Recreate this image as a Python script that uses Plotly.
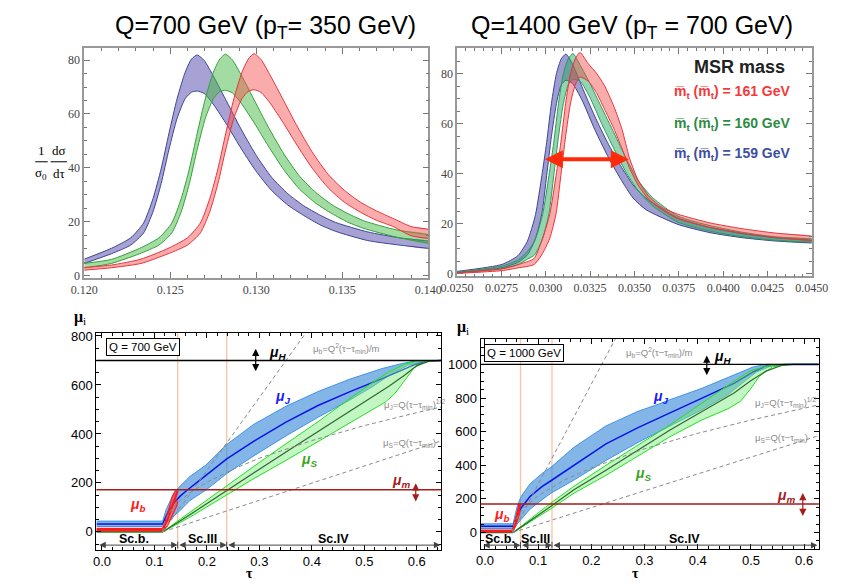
import plotly.graph_objects as go

W, H = 856, 585
def px(x): return x / W
def py(y): return 1 - y / H

# ---------------- Top-left panel: Q=700 GeV ----------------
TL_BLUE_TAU = [0.12000, 0.12158, 0.12270, 0.12345, 0.12400, 0.12447, 0.12493, 0.12540, 0.12587, 0.12624, 0.12657, 0.12698,
               0.12754, 0.12829, 0.12903, 0.12996, 0.13089, 0.13183, 0.13276, 0.13369, 0.13462, 0.13648, 0.13834, 0.14000]
TL_BLUE_UP = [6.1, 10.1, 14.0, 19.5, 28.6, 39.6, 52.9, 65.7, 75.5, 80.4, 81.9, 79.8,
              73.7, 64.5, 55.4, 45.0, 36.5, 30.4, 25.9, 22.5, 19.7, 16.2, 14.0, 12.8]
TL_BLUE_LO = [4.5, 8.1, 11.3, 15.8, 23.7, 34.1, 46.9, 58.4, 65.7, 68.1, 68.5, 67.6,
              63.3, 56.0, 48.1, 39.0, 31.6, 26.2, 22.3, 18.9, 16.4, 13.0, 11.3, 10.1]

TL_GREEN_TAU = [0.12000, 0.12158, 0.12322, 0.12434, 0.12509, 0.12564, 0.12611, 0.12657, 0.12704, 0.12751, 0.12788, 0.12821,
                0.12862, 0.12918, 0.12993, 0.13067, 0.13160, 0.13253, 0.13347, 0.13440, 0.13533, 0.13626, 0.13812, 0.14000]
TL_GREEN_UP = [4.5, 6.0, 10.1, 14.0, 19.5, 28.6, 39.6, 52.9, 65.7, 75.5, 80.4, 82.2,
               80.0, 73.8, 64.6, 55.5, 45.2, 36.8, 30.8, 26.3, 23.0, 20.3, 17.0, 15.2]
TL_GREEN_LO = [2.8, 4.5, 8.1, 11.3, 15.8, 23.7, 34.1, 46.9, 58.4, 65.7, 68.3, 68.8,
               67.8, 63.5, 56.2, 48.4, 39.3, 32.0, 26.8, 23.0, 19.8, 17.5, 14.3, 12.0]

TL_RED_TAU = [0.12000, 0.12158, 0.12330, 0.12488, 0.12600, 0.12675, 0.12730, 0.12777, 0.12823, 0.12870, 0.12917, 0.12954,
              0.12987, 0.13028, 0.13084, 0.13159, 0.13233, 0.13326, 0.13419, 0.13513, 0.13606, 0.13699, 0.13792, 0.13900, 0.14000]
TL_RED_UP = [3.0, 3.9, 6.1, 10.1, 14.0, 19.5, 28.6, 39.6, 52.9, 65.7, 75.5, 80.4,
             82.4, 80.2, 74.0, 65.0, 56.0, 45.8, 37.5, 31.6, 27.2, 24.0, 21.3, 18.2, 17.2]
TL_RED_LO = [2.0, 2.9, 4.5, 8.1, 11.3, 15.8, 23.7, 34.1, 46.9, 58.4, 65.7, 68.4,
             69.0, 68.0, 63.7, 56.5, 48.8, 39.8, 32.5, 27.2, 23.5, 20.5, 18.3, 14.8, 13.8]

# ---------------- Top-right panel: Q=1400 GeV ----------------
TR_BLUE_TAU = [0.02500, 0.02753, 0.02843, 0.02897, 0.02942, 0.02978, 0.03005, 0.03032, 0.03060, 0.03087, 0.03114, 0.03150,
               0.03204, 0.03276, 0.03348, 0.03421, 0.03493, 0.03565, 0.03745, 0.03926, 0.04106, 0.04287, 0.04500]
TR_BLUE_UP = [0.9, 3.7, 7.2, 13.1, 23.6, 39.3, 52.5, 68.2, 80.0, 85.9, 87.9, 84.0,
              74.8, 63.0, 52.5, 43.3, 35.4, 30.2, 22.3, 18.4, 16.0, 14.4, 13.4]
TR_BLUE_LO = [0.5, 2.3, 4.5, 7.5, 14.0, 24.0, 39.3, 55.0, 68.0, 75.5, 77.4, 76.1,
              69.5, 57.7, 47.2, 38.0, 30.2, 25.6, 19.7, 16.4, 14.4, 13.1, 12.3]

TR_GREEN_TAU = [0.02500, 0.02753, 0.02843, 0.02897, 0.02937, 0.02982, 0.03018, 0.03045, 0.03072, 0.03099, 0.03126, 0.03153,
                0.03195, 0.03249, 0.03312, 0.03384, 0.03457, 0.03529, 0.03601, 0.03745, 0.03926, 0.04106, 0.04287, 0.04500]
TR_GREEN_UP = [0.6, 3.0, 5.5, 9.0, 13.1, 23.6, 39.3, 52.5, 68.2, 80.0, 85.9, 88.1,
               83.3, 76.1, 66.9, 56.4, 45.5, 36.5, 30.5, 23.0, 19.2, 16.6, 14.8, 13.9]
TR_GREEN_LO = [0.3, 1.9, 3.6, 5.8, 7.5, 14.0, 24.0, 39.3, 55.0, 68.0, 75.5, 77.8,
               76.9, 70.5, 60.5, 50.0, 40.0, 32.5, 27.2, 20.6, 17.0, 14.8, 13.4, 12.6]

TR_RED_TAU = [0.02500, 0.02753, 0.02843, 0.02933, 0.02977, 0.03022, 0.03058, 0.03085, 0.03112, 0.03139, 0.03166, 0.03193,
              0.03240, 0.03285, 0.03330, 0.03384, 0.03430, 0.03471, 0.03520, 0.03583, 0.03655, 0.03745, 0.03926, 0.04106,
              0.04287, 0.04500]
TR_RED_UP = [0.4, 2.0, 3.6, 6.0, 13.1, 23.6, 39.3, 52.5, 68.2, 80.0, 85.9, 88.5,
             84.0, 80.3, 75.4, 66.9, 57.7, 46.5, 37.5, 30.8, 26.5, 23.8, 20.3, 18.0, 16.3, 15.0]
TR_RED_LO = [0.1, 1.2, 2.3, 3.6, 7.5, 14.0, 24.0, 39.3, 55.0, 68.0, 75.5, 78.7,
             77.0, 72.5, 66.0, 58.0, 50.0, 42.5, 35.5, 29.5, 25.6, 22.0, 18.5, 16.2, 14.5, 13.2]

TR_ARROW_TAU = [0.02986, 0.03468]
TR_ARROW_Y = 45.8
LEGEND_LABELS = ["m̅<sub>t</sub> (m̅<sub>t</sub>) = 161 GeV",
                 "m̅<sub>t</sub> (m̅<sub>t</sub>) = 160 GeV",
                 "m̅<sub>t</sub> (m̅<sub>t</sub>) = 159 GeV"]

# ---------------- Bottom-left panel: Q=700 GeV profiles ----------------
BL_J_UP_TAU = [-0.0106, 0.1157, 0.1220, 0.1279, 0.1350, 0.1419, 0.1675, 0.1981, 0.2378, 0.2897, 0.3507, 0.4118, 0.4728, 0.5339, 0.5705, 0.5949, 0.6193, 0.647]
BL_J_UP = [44, 44, 90, 120, 150, 172, 226, 273, 357, 440, 513, 573, 624, 667, 687, 697, 700, 700]
BL_J_C_TAU = [-0.0106, 0.1157, 0.1260, 0.1371, 0.1490, 0.1615, 0.1981, 0.2378, 0.2897, 0.3507, 0.4118, 0.4728, 0.5339, 0.5705, 0.5949, 0.6193, 0.647]
BL_J_C = [32, 32, 82, 118, 146, 169, 231, 298, 371, 448, 516, 573, 626, 660, 682, 697, 700]
BL_J_LO_TAU = [-0.0106, 0.1157, 0.1300, 0.1444, 0.1675, 0.1981, 0.2378, 0.2897, 0.3507, 0.4118, 0.4728, 0.5155, 0.5522, 0.5827, 0.6193, 0.647]
BL_J_LO = [22, 22, 52, 78, 128, 171, 238, 311, 392, 468, 539, 593, 646, 680, 697, 700]

BL_S_UP_TAU = [-0.0106, 0.1157, 0.1675, 0.2378, 0.2897, 0.3507, 0.4118, 0.4728, 0.5155, 0.5461, 0.5766, 0.6010, 0.6254, 0.647]
BL_S_UP = [0, 0, 80, 190, 268, 360, 450, 545, 610, 652, 685, 698, 700, 700]
BL_S_C_TAU = [-0.0106, 0.1157, 0.1675, 0.2378, 0.2897, 0.3507, 0.4118, 0.4728, 0.5155, 0.5461, 0.5766, 0.6010, 0.6254, 0.647]
BL_S_C = [0, 0, 70, 170, 242, 326, 410, 494, 552, 594, 640, 680, 698, 700]
BL_S_LO_TAU = [-0.0106, 0.1157, 0.1675, 0.2378, 0.2897, 0.3507, 0.4118, 0.4728, 0.5155, 0.5400, 0.5583, 0.5766, 0.5949, 0.6193, 0.647]
BL_S_LO = [0, 0, 60, 152, 218, 292, 368, 445, 500, 530, 565, 620, 670, 697, 700]

BL_B_UP_TAU = [-0.0106, 0.1157, 0.1218, 0.1279, 0.1340, 0.1401]
BL_B_UP = [14, 14, 51, 97, 144, 169]
BL_B_C_TAU = [-0.0106, 0.1157, 0.1236, 0.1310, 0.1401, 0.1444]
BL_B_C = [9, 9, 44, 91, 144, 169]
BL_B_LO_TAU = [-0.0106, 0.1157, 0.1248, 0.1340, 0.1419, 0.1444]
BL_B_LO = [4, 4, 24, 64, 104, 124]

BL_DASH_B_TAU = [0.1157, 0.388]
BL_DASH_B = [0, 811]
BL_DASH_J_TAU = [0.1157, 0.117, 0.12, 0.125, 0.13, 0.14, 0.15, 0.17, 0.2, 0.25, 0.3, 0.4, 0.5, 0.6, 0.647]
BL_DASH_J = [0, 25, 46, 67, 84, 109, 130, 163, 203, 256, 301, 373, 434, 487, 510]
BL_DASH_S_TAU = [0.1157, 0.647]
BL_DASH_S = [0, 372]
BL_MU_H, BL_MU_M = 700, 172
BL_ORANGE = [0.1443, 0.2377]
BL_SCALES = [(-0.008, 0.1443, "Sc.b.", 0.061), (0.1443, 0.2377, "Sc.III", 0.192), (0.2377, 0.645, "Sc.IV", 0.442)]

# ---------------- Bottom-right panel: Q=1000 GeV profiles ----------------
BR_J_UP_TAU = [-0.0083, 0.0530, 0.0600, 0.0680, 0.0850, 0.1071, 0.1240, 0.1673, 0.2275, 0.2877, 0.3268, 0.3479, 0.4080, 0.4682, 0.5043, 0.5283, 0.6276]
BR_J_UP = [52, 52, 150, 215, 290, 351, 388, 507, 634, 721, 764, 790, 858, 936, 985, 1000, 1000]
BR_J_C_TAU = [-0.0083, 0.0530, 0.0600, 0.0680, 0.0850, 0.1071, 0.1240, 0.1673, 0.2275, 0.2877, 0.3479, 0.4080, 0.4682, 0.5043, 0.5283, 0.5644, 0.6276]
BR_J_C = [37, 37, 100, 146, 215, 273, 308, 400, 527, 624, 712, 799, 887, 955, 991, 1000, 1000]
BR_J_LO_TAU = [-0.0083, 0.0530, 0.0680, 0.0850, 0.1071, 0.1240, 0.1673, 0.2275, 0.2877, 0.3479, 0.4080, 0.4562, 0.4862, 0.5103, 0.5404, 0.5765, 0.6276]
BR_J_LO = [24, 24, 78, 140, 195, 234, 312, 429, 536, 634, 731, 819, 897, 955, 994, 1000, 1000]

BR_S_UP_TAU = [-0.0083, 0.0530, 0.1240, 0.1673, 0.2275, 0.2877, 0.3479, 0.4080, 0.4441, 0.4682, 0.4982, 0.5283, 0.5600, 0.6276]
BR_S_UP = [0, 0, 176, 275, 400, 520, 640, 770, 850, 900, 960, 990, 1000, 1000]
BR_S_C_TAU = [-0.0083, 0.0530, 0.1240, 0.1673, 0.2275, 0.2877, 0.3479, 0.4080, 0.4682, 0.4982, 0.5283, 0.5584, 0.5800, 0.6276]
BR_S_C = [0, 0, 156, 254, 370, 490, 610, 720, 830, 900, 960, 995, 1000, 1000]
BR_S_LO_TAU = [-0.0083, 0.0530, 0.1240, 0.1673, 0.2275, 0.2877, 0.3479, 0.4080, 0.4562, 0.4802, 0.4982, 0.5163, 0.5404, 0.5765, 0.6276]
BR_S_LO = [0, 0, 141, 234, 340, 455, 570, 670, 735, 780, 850, 930, 985, 1000, 1000]

BR_B_UP_TAU = [-0.0083, 0.0518, 0.056, 0.060, 0.0639]
BR_B_UP = [14, 14, 60, 115, 170]
BR_B_C_TAU = [-0.0083, 0.0518, 0.057, 0.062, 0.0667]
BR_B_C = [9, 9, 50, 110, 170]
BR_B_LO_TAU = [-0.0083, 0.0518, 0.058, 0.063, 0.0667]
BR_B_LO = [4, 4, 40, 95, 130]

BR_DASH_B_TAU = [0.052, 0.2455]
BR_DASH_B = [0, 1154]
BR_DASH_J_TAU = [0.052, 0.053, 0.056, 0.06, 0.065, 0.07, 0.08, 0.1, 0.15, 0.2, 0.3, 0.4, 0.5, 0.6276]
BR_DASH_J = [0, 32, 63, 89, 114, 134, 167, 219, 313, 385, 498, 590, 669, 759]
BR_DASH_S_TAU = [0.052, 0.6276]
BR_DASH_S = [0, 576]
BR_MU_H, BR_MU_M = 1000, 170
BR_ORANGE = [0.0668, 0.126]
BR_SCALES = [(-0.006, 0.0668, "Sc.b.", 0.029), (0.0668, 0.126, "Sc.III", 0.095), (0.126, 0.625, "Sc.IV", 0.375)]

fig = go.Figure()

def band(xu, yu, xl, yl, fill, edge, xa, ya, ew=1.0, shape="spline"):
    ln = dict(shape=shape)
    if shape == "spline":
        ln["smoothing"] = 0.6
    fig.add_trace(go.Scatter(x=list(xu) + list(xl)[::-1], y=list(yu) + list(yl)[::-1], fill="toself",
                             fillcolor=fill, mode="lines", line=dict(width=0, **ln),
                             xaxis=xa, yaxis=ya, hoverinfo="skip", showlegend=False))
    for xs, ys in ((xu, yu), (xl, yl)):
        fig.add_trace(go.Scatter(x=xs, y=ys, mode="lines", line=dict(color=edge, width=ew, **ln),
                                 xaxis=xa, yaxis=ya, hoverinfo="skip", showlegend=False))

def line(xs, ys, color, width, xa, ya, dash="solid", shape="linear"):
    fig.add_trace(go.Scatter(x=xs, y=ys, mode="lines",
                             line=dict(color=color, width=width, dash=dash, shape=shape),
                             xaxis=xa, yaxis=ya, hoverinfo="skip", showlegend=False))

# top-left bands
band(TL_BLUE_TAU, TL_BLUE_UP, TL_BLUE_TAU, TL_BLUE_LO, "rgba(95,85,175,0.55)", "#3c4596", "x", "y")
band(TL_GREEN_TAU, TL_GREEN_UP, TL_GREEN_TAU, TL_GREEN_LO, "rgba(70,185,70,0.5)", "#35a03a", "x", "y")
band(TL_RED_TAU, TL_RED_UP, TL_RED_TAU, TL_RED_LO, "rgba(245,80,80,0.48)", "#e8343c", "x", "y")

# top-right bands
band(TR_BLUE_TAU, TR_BLUE_UP, TR_BLUE_TAU, TR_BLUE_LO, "rgba(80,75,170,0.55)", "#3c4596", "x2", "y2")
band(TR_GREEN_TAU, TR_GREEN_UP, TR_GREEN_TAU, TR_GREEN_LO, "rgba(40,170,100,0.5)", "#2f9c55", "x2", "y2")
band(TR_RED_TAU, TR_RED_UP, TR_RED_TAU, TR_RED_LO, "rgba(240,70,70,0.45)", "#e8343c", "x2", "y2")

BLUE_FILL, BLUE_EDGE, BLUE_C = "rgba(55,135,215,0.62)", "#3f95e6", "#0a14e6"
GREEN_FILL, GREEN_EDGE, GREEN_C = "rgba(120,235,120,0.45)", "#22e022", "#2e6a2e"
RED_FILL, RED_EDGE = "rgba(255,60,60,0.5)", "#ff1a1a"

for (xa, ya, J, S, B, DB, DJ, DS) in (
    ("x3", "y3",
     (BL_J_UP_TAU, BL_J_UP, BL_J_C_TAU, BL_J_C, BL_J_LO_TAU, BL_J_LO),
     (BL_S_UP_TAU, BL_S_UP, BL_S_C_TAU, BL_S_C, BL_S_LO_TAU, BL_S_LO),
     (BL_B_UP_TAU, BL_B_UP, BL_B_C_TAU, BL_B_C, BL_B_LO_TAU, BL_B_LO),
     (BL_DASH_B_TAU, BL_DASH_B), (BL_DASH_J_TAU, BL_DASH_J), (BL_DASH_S_TAU, BL_DASH_S)),
    ("x4", "y4",
     (BR_J_UP_TAU, BR_J_UP, BR_J_C_TAU, BR_J_C, BR_J_LO_TAU, BR_J_LO),
     (BR_S_UP_TAU, BR_S_UP, BR_S_C_TAU, BR_S_C, BR_S_LO_TAU, BR_S_LO),
     (BR_B_UP_TAU, BR_B_UP, BR_B_C_TAU, BR_B_C, BR_B_LO_TAU, BR_B_LO),
     (BR_DASH_B_TAU, BR_DASH_B), (BR_DASH_J_TAU, BR_DASH_J), (BR_DASH_S_TAU, BR_DASH_S)),
):
    band(J[0], J[1], J[4], J[5], BLUE_FILL, BLUE_EDGE, xa, ya, ew=1.0, shape="linear")
    line(J[2], J[3], BLUE_C, 1.5, xa, ya)
    band(S[0], S[1], S[4], S[5], GREEN_FILL, GREEN_EDGE, xa, ya, ew=1.0, shape="linear")
    line(S[2], S[3], GREEN_C, 1.2, xa, ya)
    band(B[0], B[1], B[4], B[5], RED_FILL, RED_EDGE, xa, ya, ew=1.2, shape="linear")
    line(B[2], B[3], RED_EDGE, 2.2, xa, ya)
    for d in (DB, DJ, DS):
        line(d[0], d[1], "#8a8a8a", 1, xa, ya, dash="4px,3px")

# ---------------- axes ----------------
top_font = dict(family="Liberation Serif, serif", size=12, color="#444")
bot_font = dict(family="Liberation Sans, Arial, sans-serif", size=13, color="black")

def top_axis(domain, rng, dtick, minor, fmt, anchor, tick0):
    return dict(domain=domain, range=rng, dtick=dtick, tick0=tick0, tickformat=fmt,
                ticks="inside", ticklen=6, tickcolor="#777", tickwidth=1,
                showline=True, linecolor="#999", linewidth=1.5, mirror="allticks",
                minor=dict(dtick=minor, ticklen=3, tickcolor="#777", ticks="inside"),
                showgrid=False, zeroline=False, tickfont=top_font, anchor=anchor)

def bot_axis(domain, rng, dtick, minor, fmt, anchor):
    return dict(domain=domain, range=rng, dtick=dtick, tick0=0, tickformat=fmt,
                ticks="inside", ticklen=5, tickcolor="black", tickwidth=1,
                showline=True, linecolor="black", linewidth=1, mirror="allticks",
                minor=dict(dtick=minor, ticklen=3, tickcolor="black", ticks="inside"),
                showgrid=False, zeroline=False, tickfont=bot_font, anchor=anchor)

xa1 = top_axis([px(70), px(428.3)], [0.120, 0.140], 0.005, 0.001, ".3f", "y", 0.120)
ya1 = top_axis([py(278), py(44)], [-1, 84.4], 20, 5, None, "x", 0)
xa2 = top_axis([px(458.3), px(827.7)], [0.025, 0.045], 0.0025, 0.0005, ".4f", "y2", 0.025)
ya2 = top_axis([py(276), py(44)], [-1.06, 90.2], 20, 5, None, "x2", 0)
xa3 = bot_axis([px(82.7), px(442)], [-0.0106, 0.647], 0.1, 0.02, ".1f", "y3")
ya3 = bot_axis([py(554), py(334)], [-72, 811], 200, 50, None, "x3")
xa4 = bot_axis([px(482.7), px(835)], [-0.0083, 0.6276], 0.1, 0.02, ".1f", "y4")
ya4 = bot_axis([py(553.3), py(339.3)], [-97, 1154], 200, 50, None, "x4")

shapes = []
annotations = []

def ann(text, x, y, xref, yref, size=12, color="black", xanchor="center", yanchor="middle",
        family="Liberation Sans, Arial, sans-serif", **kw):
    d = dict(text=text, x=x, y=y, xref=xref, yref=yref, showarrow=False, xanchor=xanchor, yanchor=yanchor,
             font=dict(size=size, color=color, family=family))
    d.update(kw)
    annotations.append(d)

def arrow(x0, y0, x1, y1, xr, yr, color="black", width=1.2, size=1.0, head=2):
    annotations.append(dict(text="", x=x1, y=y1, ax=x0, ay=y0, xref=xr, yref=yr, axref=xr, ayref=yr,
                            showarrow=True, arrowhead=head, startarrowhead=head, arrowside="end+start",
                            arrowsize=size, startarrowsize=size, arrowwidth=width, arrowcolor=color))

# titles
ann("Q=700 GeV (p<sub>T</sub>= 350 GeV)", px(259), py(22), "paper", "paper", size=25)
ann("Q=1400 GeV (p<sub>T</sub> = 700 GeV)", px(640), py(22), "paper", "paper", size=25)

# top-left y label as fraction
serif = "Liberation Serif, serif"
ann("1", px(25), py(148), "paper", "paper", size=13, family=serif)
ann("σ<sub>0</sub>", px(25), py(171), "paper", "paper", size=13, family=serif)
ann("dσ", px(43.5), py(148), "paper", "paper", size=13, family=serif)
ann("dτ", px(43.5), py(171), "paper", "paper", size=13, family=serif)
shapes.append(dict(type="line", xref="paper", yref="paper", x0=px(19), x1=px(32), y0=py(159.5), y1=py(159.5),
                   line=dict(color="black", width=1)))
shapes.append(dict(type="line", xref="paper", yref="paper", x0=px(35), x1=px(52), y0=py(159.5), y1=py(159.5),
                   line=dict(color="black", width=1)))

# top-right legend and arrow
ann("<b>MSR mass</b>", px(752), py(63), "paper", "paper", size=18, color="#222")
for lab, col, yy in zip(LEGEND_LABELS, ["#f23a3a", "#2e8b45", "#3d4fa0"], [89, 121, 152]):
    ann("<b>" + lab + "</b>", px(745), py(yy), "paper", "paper", size=14, color=col)
arrow(TR_ARROW_TAU[0], TR_ARROW_Y, TR_ARROW_TAU[1], TR_ARROW_Y, "x2", "y2", color="#ff2a0a", width=4, size=0.9, head=2)

# bottom panels
def italic_b(s, sub):
    return "<b><i>" + s + "<sub>" + sub + "</sub></i></b>"

for (xr, yr, p) in (
    ("x3", "y3", dict(Q="Q = 700 GeV", qpos=(0.078, 757), muH=BL_MU_H, muM=BL_MU_M,
                      Harrow=(0.293, 754, 656), Hlab=(0.334, 730), Jlab=(0.345, 549), Slab=(0.395, 292),
                      Mlab=(0.570, 208), Marrow=(0.598, 205, 124), Blab=(0.067, 111),
                      dB=(0.398, 750), dJ=(0.534, 522), dS=(0.531, 363),
                      orange=BL_ORANGE, scales=BL_SCALES, scy=-54, sclab=-27, yspan=899)),
    ("x4", "y4", dict(Q="Q = 1000 GeV", qpos=(0.0726, 1068), muH=BR_MU_H, muM=BR_MU_M,
                      Harrow=(0.417, 1062, 936), Hlab=(0.447, 1043), Jlab=(0.33, 809), Slab=(0.297, 351),
                      Mlab=(0.566, 219), Marrow=(0.5975, 244, 98), Blab=(0.032, 107),
                      dB=(0.2607, 1072), dJ=(0.504, 776), dS=(0.504, 561),
                      orange=BR_ORANGE, scales=BR_SCALES, scy=-75, sclab=-37, yspan=1274)),
):
    for o in p["orange"]:
        shapes.append(dict(type="line", xref=xr, yref=yr + " domain", x0=o, x1=o, y0=0, y1=1,
                           line=dict(color="#f7c4a4", width=1.3), layer="below"))
    shapes.append(dict(type="line", xref=xr + " domain", yref=yr, x0=0, x1=1, y0=p["muH"], y1=p["muH"],
                       line=dict(color="black", width=1.4)))
    shapes.append(dict(type="line", xref=xr + " domain", yref=yr, x0=0, x1=1, y0=p["muM"], y1=p["muM"],
                       line=dict(color="#a51c1c", width=1.4)))
    ann(p["Q"], p["qpos"][0], p["qpos"][1], xr, yr, size=11.5, bordercolor="black", borderwidth=1,
        borderpad=2, bgcolor="white")
    arrow(p["Harrow"][0], p["Harrow"][1], p["Harrow"][0], p["Harrow"][2], xr, yr, width=1.2, size=1.2)
    ann(italic_b("μ", "H"), p["Hlab"][0], p["Hlab"][1], xr, yr, size=14)
    ann(italic_b("μ", "J"), p["Jlab"][0], p["Jlab"][1], xr, yr, size=14, color="#1a1aff")
    ann(italic_b("μ", "S"), p["Slab"][0], p["Slab"][1], xr, yr, size=14, color="#3aa51e")
    ann(italic_b("μ", "m"), p["Mlab"][0], p["Mlab"][1], xr, yr, size=14, color="#a51c1c")
    arrow(p["Marrow"][0], p["Marrow"][1], p["Marrow"][0], p["Marrow"][2], xr, yr, color="#a51c1c", width=1.2, size=1.2)
    ann(italic_b("μ", "b"), p["Blab"][0], p["Blab"][1], xr, yr, size=14, color="#ff1a1a")
    ann("μ<sub>b</sub>=Q<sup>2</sup>(τ−τ<sub>min</sub>)/m", p["dB"][0], p["dB"][1], xr, yr, size=9.5,
        color="#8a8a8a", xanchor="left")
    ann("μ<sub>J</sub>=Q(τ−τ<sub>min</sub>)<sup>1/2</sup>", p["dJ"][0], p["dJ"][1], xr, yr, size=9.5,
        color="#8a8a8a", xanchor="left")
    ann("μ<sub>S</sub>=Q(τ−τ<sub>min</sub>)", p["dS"][0], p["dS"][1], xr, yr, size=9.5,
        color="#8a8a8a", xanchor="left")
    for (a, b, lab, lx) in p["scales"]:
        arrow(a, p["scy"], b, p["scy"], xr, yr, color="#444", width=1, size=1.3)
        ann("<b>" + lab + "</b>", lx, p["sclab"], xr, yr, size=12.5)
    half = 14 * p["yspan"] / 900
    for (a, b, lab, lx) in p["scales"][1:]:
        shapes.append(dict(type="line", xref=xr, yref=yr, x0=a, x1=a, y0=p["scy"] - half, y1=p["scy"] + half,
                           line=dict(color="#444", width=1)))

# axis titles for bottom panels
ann("<b>μ</b><sub>i</sub>", px(66), py(318), "paper", "paper", size=16, family=serif)
ann("<b>μ</b><sub>i</sub>", px(464), py(328), "paper", "paper", size=16, family=serif)
ann("<b>τ</b>", px(242), py(578), "paper", "paper", size=14, family=serif)
ann("<b>τ</b>", px(644), py(578), "paper", "paper", size=14, family=serif)

fig.update_layout(
    width=W, height=H, margin=dict(l=0, r=0, t=0, b=0),
    paper_bgcolor="white", plot_bgcolor="white", showlegend=False,
    xaxis=xa1, yaxis=ya1, xaxis2=xa2, yaxis2=ya2, xaxis3=xa3, yaxis3=ya3, xaxis4=xa4, yaxis4=ya4,
    shapes=shapes, annotations=annotations,
    font=dict(family="Liberation Sans, Arial, sans-serif"),
)
fig.write_html("out.html")
